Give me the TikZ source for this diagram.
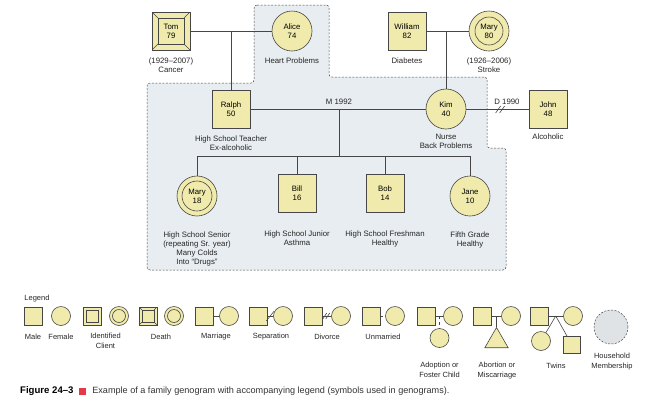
\documentclass[tikz,border=0pt]{standalone}
\usepackage{fontspec}
\setmainfont{Liberation Sans}
\usetikzlibrary{positioning,calc,shapes.geometric}

\definecolor{nodefill}{RGB}{240,235,172}
\definecolor{homefill}{RGB}{231,237,240}
\definecolor{homecircle}{RGB}{223,227,229}
\definecolor{linegray}{RGB}{70,70,70}
\definecolor{figred}{RGB}{228,58,72}

\begin{document}
\begin{tikzpicture}[x=1pt, y=-1pt, font=\fontsize{7.8}{9}\selectfont,
    conn/.style={draw=linegray, line width=0.6pt},
    male/.style={draw=linegray, line width=0.6pt, fill=nodefill, minimum size=38pt, inner sep=0pt, align=center},
    female/.style={male, circle, minimum size=40pt},
    smale/.style={male, minimum size=18pt},
    sfemale/.style={female, minimum size=19pt},
    client/.style={path picture={\draw[linegray, line width=0.6pt]
      ([shift={(#1,-#1)}]path picture bounding box.north west) rectangle
      ([shift={(-#1,#1)}]path picture bounding box.south east);}},
    ring/.style={path picture={\draw[linegray, line width=0.6pt]
      (path picture bounding box.center) circle[radius=#1];}},
    deadbox/.style={path picture={
      \draw[linegray, line width=0.6pt]
        ([shift={(#1,-#1)}]path picture bounding box.north west) rectangle
        ([shift={(-#1,#1)}]path picture bounding box.south east);
      \foreach \c/\sx/\sy in {north west/1/-1, north east/-1/-1, south west/1/1, south east/-1/1}
        \draw[linegray, line width=0.6pt] (path picture bounding box.\c) -- ++(\sx*#1, \sy*#1);}},
    lbl/.style={align=center, inner sep=1pt, text=black!85},
    home/.style={draw=linegray, line width=0.5pt, dash pattern=on 2pt off 1.5pt}]
  \useasboundingbox (0,0) rectangle (648,408);

  % household
  \filldraw[home, fill=homefill, rounded corners=3pt]
    (254,5) -- (329,5) -- (329,77) -- (487,77) -- (487,148) -- (506,148)
    -- (506,270) -- (147,270) -- (147,83) -- (254,83) -- cycle;

  % grandparents
  \node[male, deadbox=6pt] (tom) at (171,31) {Tom\\79};
  \node[female] (alice) at (292,31) {Alice\\74};
  \node[male] (william) at (407,31) {William\\82};
  \node[female, ring=14pt] (marysr) at (489,31) {Mary\\80};
  \node[lbl, below=6pt of tom] (tominfo) {(1929--2007)\\Cancer};
  \node[lbl, below=5pt of alice] (aliceinfo) {Heart Problems};
  \node[lbl, below=6pt of william] (williaminfo) {Diabetes};
  \node[lbl, below=5pt of marysr] (marysrinfo) {(1926--2006)\\Stroke};

  % parents
  \node[male] (ralph) at (231,109) {Ralph\\50};
  \node[female] (kim) at (446,109) {Kim\\40};
  \node[male] (john) at (548,109) {John\\48};
  \node[lbl, below=6pt of ralph] (ralphinfo) {High School Teacher\\Ex-alcoholic};
  \node[lbl, below=4pt of kim] (kiminfo) {Nurse\\Back Problems};
  \node[lbl, below=4pt of john] (johninfo) {Alcoholic};

  \draw[conn] (tom.east) -- (alice.west);
  \draw[conn] (ralph.north) -- (ralph |- tom.east);
  \draw[conn] (william.east) -- (marysr.west);
  \draw[conn] (kim.north) -- (kim |- william.east);

  \coordinate (sibs) at (339,156);
  \draw[conn] (ralph.east) -- (kim.west);
  \draw[conn] (sibs |- ralph.east) -- (sibs);
  \node[lbl, anchor=south] (m1992) at (339,106) {M 1992};

  \draw[conn] (kim.east) -- (john.west);
  \coordinate (kjdiv) at ($(kim.east)!0.55!(john.west)$);
  \draw[conn] (kjdiv) +(-5,4) -- +(0,-3);
  \draw[conn] (kjdiv) +(-1,4) -- +(4,-3);
  \node[lbl, anchor=south] (d1990) at (507,106) {D 1990};

  % children
  \node[female, ring=15pt] (marych) at (197,196) {Mary\\18};
  \node[male] (bill) at (297,193) {Bill\\16};
  \node[male] (bob) at (385,193) {Bob\\14};
  \node[female] (jane) at (470,196) {Jane\\10};
  \draw[conn] (marych.north) -- (marych |- sibs) -- (jane |- sibs) -- (jane.north);
  \draw[conn] (bill.north) -- (bill |- sibs);
  \draw[conn] (bob.north) -- (bob |- sibs);
  \node[lbl, below=14pt of marych] (marychinfo) {High School Senior\\(repeating Sr. year)\\Many Colds\\Into ``Drugs''};
  \node[lbl, below=17pt of bill] (billinfo) {High School Junior\\Asthma};
  \node[lbl, below=17pt of bob] (bobinfo) {High School Freshman\\Healthy};
  \node[lbl, below=14pt of jane] (janeinfo) {Fifth Grade\\Healthy};

  % legend
  \begin{scope}[font=\fontsize{7.5}{9.5}\selectfont]
    \node[lbl] (legend) at (37,299) {Legend};
    \node[smale] (lmale) at (33,316) {};
    \node[sfemale] (lfemale) at (61,316) {};
    \node[smale, client=3pt] (lclientm) at (92,316) {};
    \node[sfemale, ring=6.5pt] (lclientf) at (119,316) {};
    \node[smale, deadbox=3pt] (ldeadm) at (148,316) {};
    \node[sfemale, ring=6.5pt] (ldeadf) at (174,316) {};
    \node[smale] (lmarm) at (204,316) {};
    \node[sfemale] (lmarf) at (229,316) {};
    \node[smale] (lsepm) at (258,316) {};
    \node[sfemale] (lsepf) at (283,316) {};
    \node[smale] (ldivm) at (313,316) {};
    \node[sfemale] (ldivf) at (341,316) {};
    \node[smale] (lunm) at (371,316) {};
    \node[sfemale] (lunf) at (395,316) {};
    \node[smale] (ladm) at (426,316) {};
    \node[sfemale] (ladf) at (453,316) {};
    \node[sfemale] (ladc) at (439.5,338) {};
    \node[smale] (labm) at (482,316) {};
    \node[sfemale] (labf) at (511,316) {};
    \node[regular polygon, regular polygon sides=3, draw=linegray, line width=0.6pt,
      fill=nodefill, minimum size=27pt, inner sep=0pt] (labc) at (496.5,341) {};
    \node[smale] (ltwm) at (539,316) {};
    \node[sfemale] (ltwf) at (573,316) {};
    \node[sfemale] (ltwc) at (541,341) {};
    \node[smale, minimum size=17pt] (ltws) at (572,345) {};
    \node[circle, home, fill=homecircle, minimum size=34pt] (lhouse) at (611,327) {};

    \draw[conn] (lmarm.east) -- (lmarf.west);
    \draw[conn] (lsepm.east) -- (lsepf.west);
    \coordinate (sepmark) at ($(lsepm.east)!0.5!(lsepf.west)$);
    \draw[conn] (sepmark) +(-4,5) -- +(4,-5);
    \draw[conn] (ldivm.east) -- (ldivf.west);
    \coordinate (divmark) at ($(ldivm.east)!0.5!(ldivf.west)$);
    \draw[conn] (divmark) +(-4,3) -- +(0,-3);
    \draw[conn] (divmark) +(-1,3) -- +(3,-3);
    \draw[conn, dashed] (lunm.east) -- (lunf.west);
    \draw[conn] (ladm.east) -- (ladf.west);
    \draw[conn, dashed] (ladc |- ladm) -- (ladc.north);
    \draw[conn] (labm.east) -- (labf.west);
    \draw[conn] (labc |- labm) -- (labc.north);
    \draw[conn] (ltwm.east) -- (ltwf.west);
    \coordinate (twinfork) at ($(ltwm.east)!0.5!(ltwf.west)$);
    \draw[conn] (twinfork) -- (ltwc);
    \draw[conn] (twinfork) -- (ltws);

    \node[lbl] (lmaletxt) at (33,337) {Male};
    \node[lbl] (lfemaletxt) at (61,337) {Female};
    \node[lbl, anchor=north] (lclienttxt) at (105.5,332) {Identified\\Client};
    \node[lbl] (ldeadtxt) at (161,337) {Death};
    \node[lbl] (lmartxt) at (216,337) {Marriage};
    \node[lbl] (lseptxt) at (271,337) {Separation};
    \node[lbl] (ldivtxt) at (327,337) {Divorce};
    \node[lbl] (luntxt) at (383,337) {Unmarried};
    \node[lbl, anchor=north] (ladtxt) at (439.5,361) {Adoption or\\Foster Child};
    \node[lbl, anchor=north] (labtxt) at (497,361) {Abortion or\\Miscarriage};
    \node[lbl] (ltwtxt) at (556,366) {Twins};
    \node[lbl, anchor=north] (lhousetxt) at (612,352) {Household\\Membership};
  \end{scope}

  % caption
  \node[anchor=west, inner sep=0pt, font=\fontsize{9.6}{11}\selectfont\bfseries] (figlbl) at (20,391) {Figure 24--3};
  \node[fill=figred, minimum size=7pt, inner sep=0pt, right=5pt of figlbl] (figmark) {};
  \node[anchor=west, inner sep=0pt, text=black!80, font=\fontsize{9.1}{11}\selectfont, right=6pt of figmark] (figtxt)
    {Example of a family genogram with accompanying legend (symbols used in genograms).};
\end{tikzpicture}
\end{document}
